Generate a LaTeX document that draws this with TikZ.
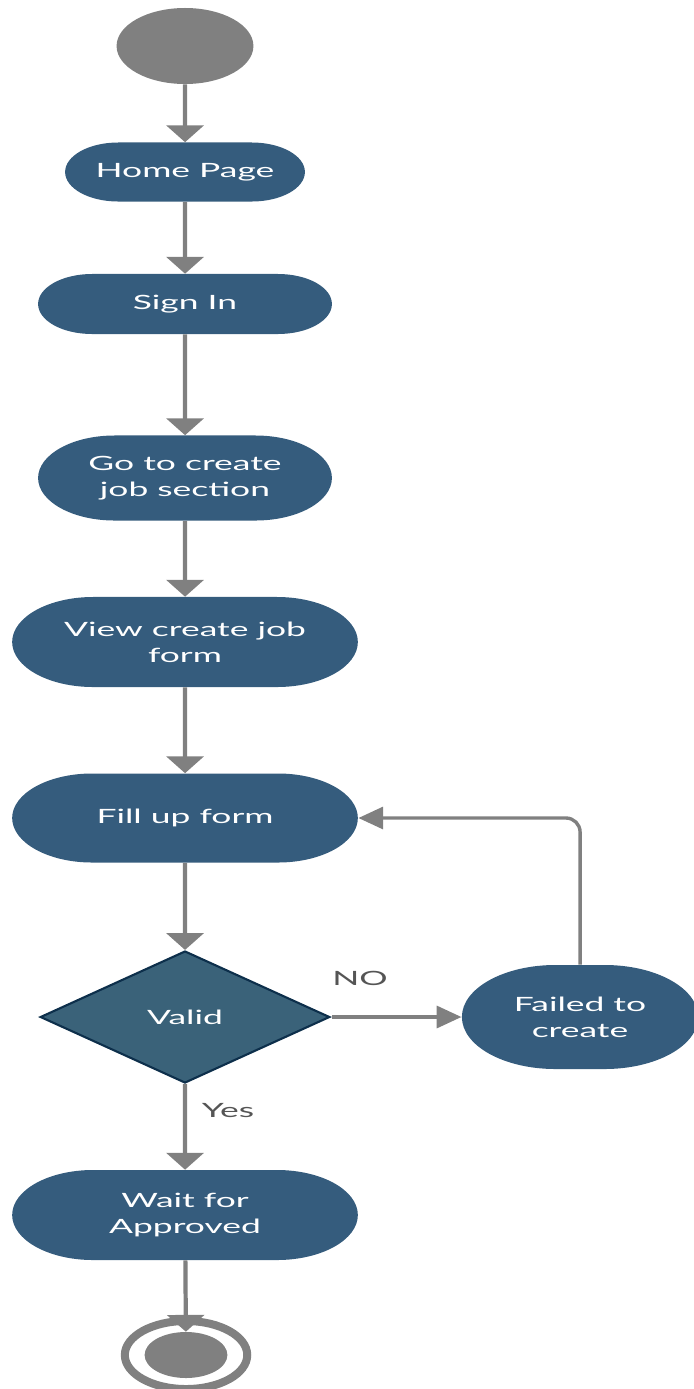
\documentclass[tikz,border=0pt]{standalone}
\usepackage{fontspec}
\setmainfont{Lato}
\usetikzlibrary{arrows.meta,shapes.geometric,shapes.misc}

\definecolor{actblue}{HTML}{355C7D}
\definecolor{decblue}{HTML}{3A6279}
\definecolor{decedge}{HTML}{0D2F4B}
\definecolor{flowgray}{HTML}{808080}
\definecolor{lblgray}{HTML}{555555}

\begin{document}
\begin{tikzpicture}[x=0.0138889cm, y=-0.025cm, xscale=1.8,
    every node/.append style={transform shape, font=\fontsize{14}{18.6}\selectfont},
    act/.style={rounded rectangle, fill=actblue, text=white, align=center, inner sep=0pt},
    dec/.style={diamond, fill=decblue, draw=decedge, line width=1.5pt, text=white,
      inner sep=0pt, minimum width=4.03cm, minimum height=3.3cm},
    flow/.style={draw=flowgray, line width=3pt, -{Triangle[width=0.92cm,length=0.42cm]}},
    hflow/.style={draw=flowgray, line width=2.4pt, -{Triangle[width=0.55cm,length=0.62cm]}},
    lbl/.style={text=lblgray}]
    \useasboundingbox (0,0) rectangle (693,1389);
    % start and end
    \node (start) [circle, fill=flowgray, minimum size=1.9cm, inner sep=0pt] at (185,46) {};
    \node (end) [circle, fill=flowgray, minimum size=1.15cm, inner sep=0pt] at (186,1355) {};
    \draw[flowgray, line width=0.2cm] (end) circle[radius=0.85cm];
    % activities
    \node (home) [act, minimum width=3.33cm, minimum height=1.475cm] at (185,172) {Home Page};
    \node (signin) [act, minimum width=4.08cm, minimum height=1.5cm] at (185,304) {Sign In};
    \node (goto) [act, minimum width=4.08cm, minimum height=2.125cm] at (185,478) {Go to create\\job section};
    \node (view) [act, minimum width=4.8cm, minimum height=2.25cm] at (185,642) {View create job\\form};
    \node (fill) [act, minimum width=4.8cm, minimum height=2.225cm] at (185,818) {Fill up form};
    \node (valid) [dec] at (185,1017) {Valid};
    \node (failed) [act, minimum width=3.28cm, minimum height=2.6cm] at (580,1017) {Failed to\\create};
    \node (wait) [act, minimum width=4.8cm, minimum height=2.25cm] at (185,1215) {Wait for\\Approved};
    % labels
    \node (no) [lbl] at (360,978) {NO};
    \node (yes) [lbl] at (228,1111) {Yes};
    % flows
    \draw[flow] (start) -- (home);
    \draw[flow] (home) -- (signin);
    \draw[flow] (signin) -- (goto);
    \draw[flow] (goto) -- (view);
    \draw[flow] (view) -- (fill);
    \draw[flow] (fill) -- (valid);
    \draw[hflow] (valid) -- (failed);
    \draw[hflow, rounded corners=10pt] (failed.north) |- (fill.east);
    \draw[flow] (valid) -- (wait);
    \draw[flow] (wait) -- (end);
  \end{tikzpicture}
\end{document}
